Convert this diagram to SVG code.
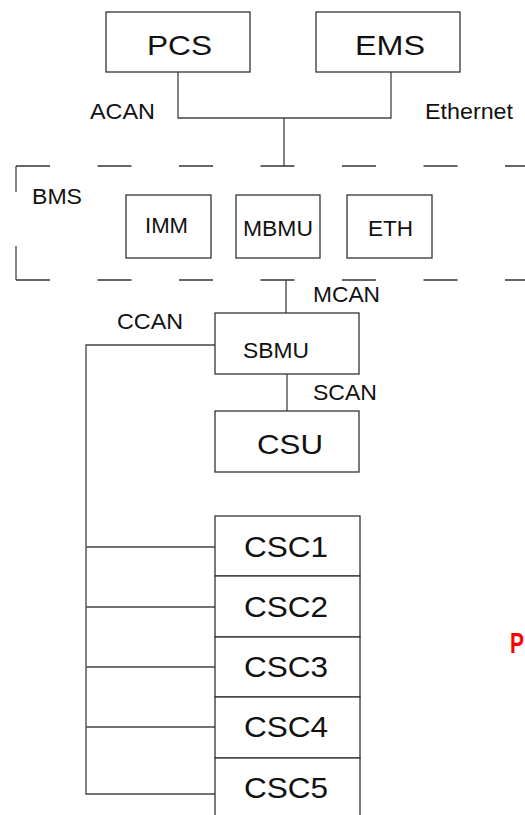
<svg xmlns="http://www.w3.org/2000/svg" width="525" height="815" viewBox="0 0 525 815">
<style>
  .box { fill: #fff; stroke: #333; stroke-width: 1.3; }
  .ln { fill: none; stroke: #444; stroke-width: 1.3; }
  .dash { fill: none; stroke: #333; stroke-width: 1.3; stroke-dasharray: 34 47.5; }
  text { font-family: "Liberation Sans", Arial, sans-serif; fill: #111; }
  .big { font-size: 28px; text-anchor: middle; }
  .mid { font-size: 22px; text-anchor: middle; }
  .lbl { font-size: 22px; }
  .csc { font-size: 30px; text-anchor: middle; }
</style>
<rect width="525" height="815" fill="#fff"/>
<g id="connectors">
  <path class="ln" d="M178 72 V118 H391 V72 M284 118 V166"/>
  <path class="ln" d="M286 280 V313 M287 374 V411"/>
  <path class="ln" d="M215 345 H86 V794 H215 M86 547 H215 M86 607 H215 M86 667 H215 M86 727 H215"/>
</g>
<g id="PCS"><rect class="box" x="106" y="12" width="144" height="60"/><text class="big" x="179.5" y="55" textLength="65" lengthAdjust="spacingAndGlyphs">PCS</text></g>
<g id="EMS"><rect class="box" x="316" y="12" width="144" height="60"/><text class="big" x="390" y="55" textLength="70" lengthAdjust="spacingAndGlyphs">EMS</text></g>
<g id="labels-top">
  <text class="lbl" x="90" y="119" textLength="65" lengthAdjust="spacingAndGlyphs">ACAN</text>
  <text class="lbl" x="425" y="119" textLength="88" lengthAdjust="spacingAndGlyphs">Ethernet</text>
</g>
<g id="BMS">
  <line class="dash" x1="16" y1="166" x2="540" y2="166"/>
  <line class="dash" x1="16" y1="280" x2="540" y2="280"/>
  <line class="ln" x1="16" y1="166" x2="16" y2="192"/>
  <line class="ln" x1="16" y1="246" x2="16" y2="280"/>
  <text class="lbl" x="32" y="204" font-size="21" textLength="50" lengthAdjust="spacingAndGlyphs">BMS</text>
</g>
<g id="IMM"><rect class="box" x="126" y="195" width="85" height="63"/><text class="mid" x="166.5" y="233" textLength="43" lengthAdjust="spacingAndGlyphs">IMM</text></g>
<g id="MBMU"><rect class="box" x="236" y="195" width="84" height="63"/><text class="mid" x="278" y="236" textLength="70" lengthAdjust="spacingAndGlyphs">MBMU</text></g>
<g id="ETH"><rect class="box" x="347" y="195" width="85" height="63"/><text class="mid" x="390.5" y="236" textLength="45" lengthAdjust="spacingAndGlyphs">ETH</text></g>
<g id="labels-mid">
  <text class="lbl" x="313" y="302" textLength="67" lengthAdjust="spacingAndGlyphs">MCAN</text>
  <text class="lbl" x="117" y="329" textLength="66" lengthAdjust="spacingAndGlyphs">CCAN</text>
  <text class="lbl" x="313" y="400" textLength="64" lengthAdjust="spacingAndGlyphs">SCAN</text>
</g>
<g id="SBMU"><rect class="box" x="215" y="313" width="144" height="61"/><text class="mid" x="276" y="358" textLength="66" lengthAdjust="spacingAndGlyphs">SBMU</text></g>
<g id="CSU"><rect class="box" x="215" y="411" width="144" height="61"/><text class="big" x="290" y="454" font-size="29" textLength="66" lengthAdjust="spacingAndGlyphs">CSU</text></g>
<g id="CSC1"><rect class="box" x="215" y="516" width="145" height="60"/><text class="csc" x="286" y="557" textLength="84" lengthAdjust="spacingAndGlyphs">CSC1</text></g>
<g id="CSC2"><rect class="box" x="215" y="576" width="145" height="61"/><text class="csc" x="286" y="617" textLength="84" lengthAdjust="spacingAndGlyphs">CSC2</text></g>
<g id="CSC3"><rect class="box" x="215" y="637" width="145" height="60"/><text class="csc" x="286" y="677" textLength="84" lengthAdjust="spacingAndGlyphs">CSC3</text></g>
<g id="CSC4"><rect class="box" x="215" y="697" width="145" height="61"/><text class="csc" x="286" y="737" textLength="84" lengthAdjust="spacingAndGlyphs">CSC4</text></g>
<g id="CSC5"><rect class="box" x="215" y="758" width="145" height="70"/><text class="csc" x="286" y="798" textLength="84" lengthAdjust="spacingAndGlyphs">CSC5</text></g>
<text x="510" y="653" font-size="29" font-weight="bold" textLength="14" lengthAdjust="spacingAndGlyphs" style="fill:#f00">P</text>
</svg>
